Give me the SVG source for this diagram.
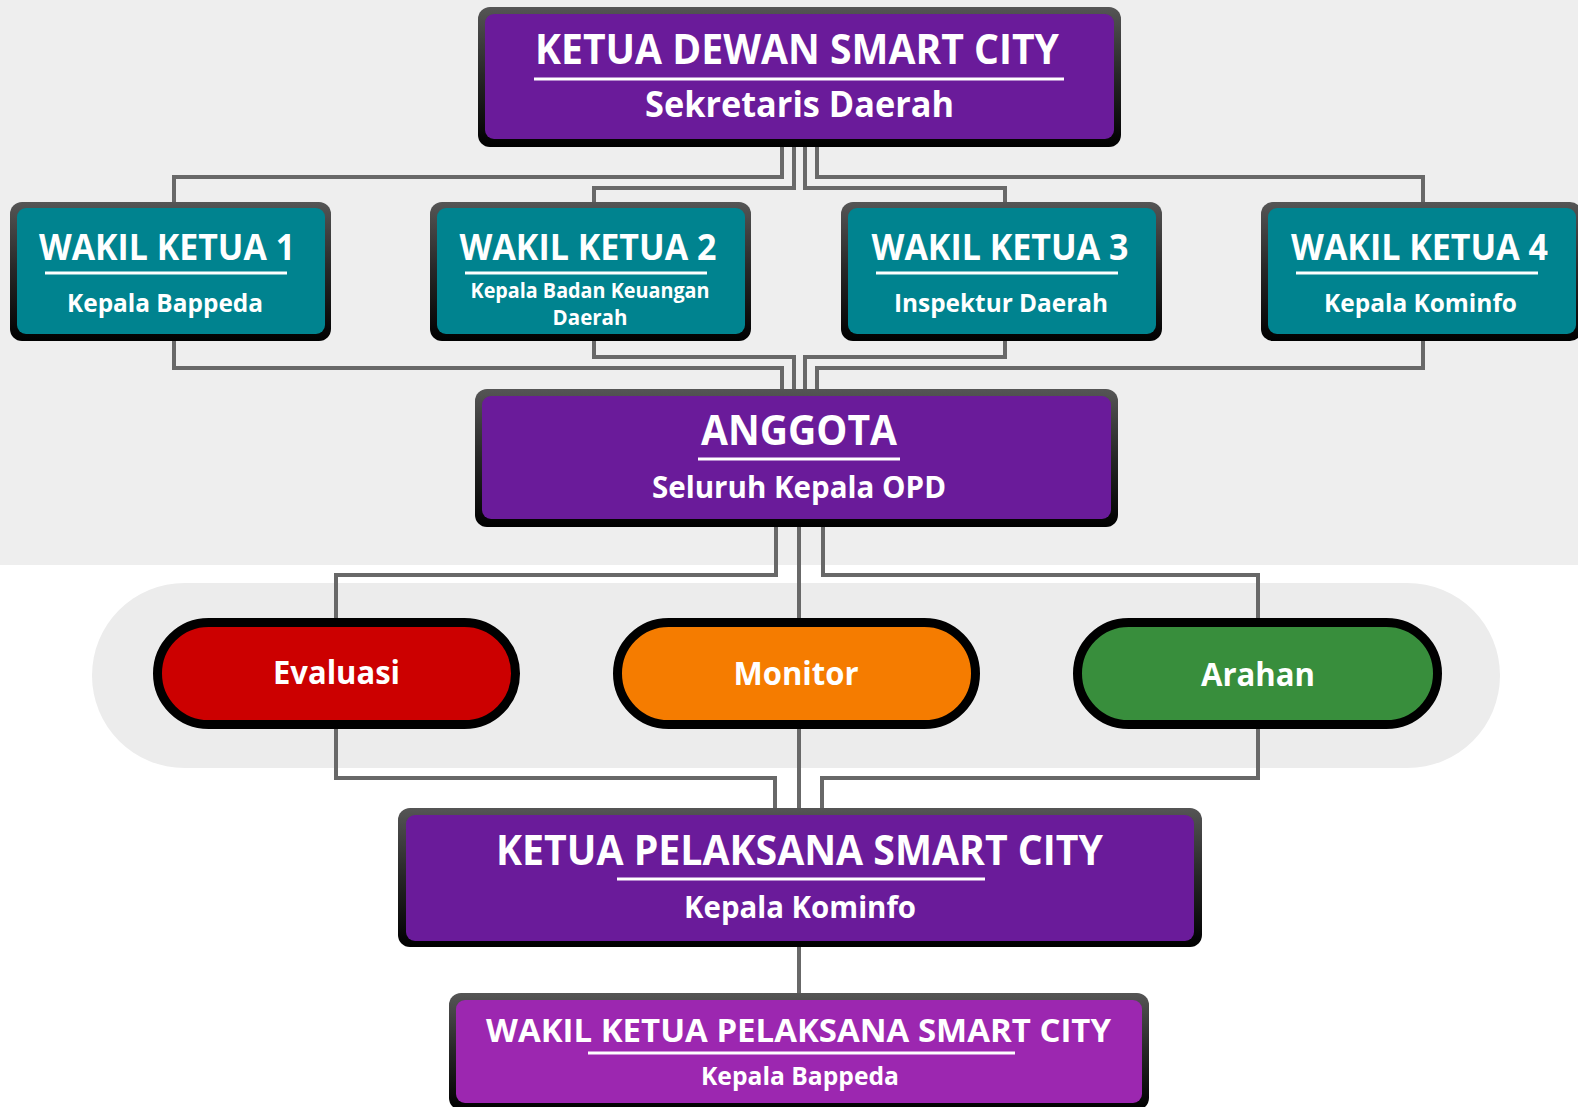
<svg xmlns="http://www.w3.org/2000/svg" width="1578" height="1107" viewBox="0 0 1578 1107">
<defs>
<linearGradient id="frame" x1="0" y1="0" x2="0" y2="1">
<stop offset="0" stop-color="#555555"/>
<stop offset="0.5" stop-color="#262626"/>
<stop offset="1" stop-color="#000000"/>
</linearGradient>
<style>
.frame{fill:url(#frame);}
.purple{fill:#6a1b9a;}
.teal{fill:#00838f;}
.violet{fill:#9c27b0;}
.conn{fill:none;stroke:#686868;stroke-width:4;stroke-linejoin:miter;}
.t{font-family:"Open Sans","Noto Sans","Liberation Sans",sans-serif;font-weight:700;fill:#ffffff;text-anchor:middle;}
.big{font-size:41px;}
.wk{font-size:35px;}
.sub{font-size:31px;}
.wsub{font-size:25.5px;}
.pilltxt{font-size:32.5px;}
.ul{fill:#ffffff;}
.pill{stroke:#000000;stroke-width:9;}
</style>
</defs>

<rect x="0" y="0" width="1578" height="1107" fill="#ffffff"/>
<rect x="0" y="0" width="1578" height="565" fill="#eeeeee"/>
<rect x="92" y="583" width="1408" height="185" rx="92.5" fill="#ececec"/>

<g id="connectors">
<path class="conn" d="M782 147 V177 H174 V202"/>
<path class="conn" d="M794 147 V188 H594 V202"/>
<path class="conn" d="M805 147 V188 H1005 V202"/>
<path class="conn" d="M817 147 V177 H1423 V202"/>
<path class="conn" d="M174 340 V368 H782 V389"/>
<path class="conn" d="M594 340 V357 H794 V389"/>
<path class="conn" d="M1005 340 V357 H805 V389"/>
<path class="conn" d="M1423 340 V368 H817 V389"/>
<path class="conn" d="M776 527 V575 H336 V618"/>
<path class="conn" d="M799 527 V618"/>
<path class="conn" d="M823 527 V575 H1258 V618"/>
<path class="conn" d="M336 729 V778 H775 V808"/>
<path class="conn" d="M799 729 V808"/>
<path class="conn" d="M1258 729 V778 H822 V808"/>
<path class="conn" d="M799 947 V993"/>
</g>

<g id="ketua-dewan">
<rect class="frame" x="478" y="7" width="643" height="140" rx="12"/>
<rect class="purple" x="485" y="14" width="629" height="125" rx="9"/>
<text class="t big" x="797" y="64" textLength="524" lengthAdjust="spacingAndGlyphs">KETUA DEWAN SMART CITY</text>
<rect class="ul" x="534" y="77.5" width="530" height="3"/>
<text class="t" style="font-size:35px" x="799.5" y="117" textLength="309" lengthAdjust="spacingAndGlyphs">Sekretaris Daerah</text>
</g>

<g id="wakil-1">
<rect class="frame" x="10" y="202" width="321" height="139" rx="12"/>
<rect class="teal" x="17" y="208" width="308" height="126" rx="9"/>
<text class="t wk" x="167" y="260" textLength="256" lengthAdjust="spacingAndGlyphs">WAKIL KETUA 1</text>
<rect class="ul" x="45" y="271.5" width="242" height="3"/>
<text class="t wsub" x="165" y="312" textLength="196" lengthAdjust="spacingAndGlyphs">Kepala Bappeda</text>
</g>

<g id="wakil-2">
<rect class="frame" x="430" y="202" width="321" height="139" rx="12"/>
<rect class="teal" x="437" y="208" width="308" height="126" rx="9"/>
<text class="t wk" x="588" y="260" textLength="257" lengthAdjust="spacingAndGlyphs">WAKIL KETUA 2</text>
<rect class="ul" x="465" y="271.5" width="242" height="3"/>
<text class="t" style="font-size:20.5px" x="590" y="298" textLength="239" lengthAdjust="spacingAndGlyphs">Kepala Badan Keuangan</text>
<text class="t" style="font-size:20.5px" x="590" y="325">Daerah</text>
</g>

<g id="wakil-3">
<rect class="frame" x="841" y="202" width="321" height="139" rx="12"/>
<rect class="teal" x="848" y="208" width="308" height="126" rx="9"/>
<text class="t wk" x="1000" y="260" textLength="257" lengthAdjust="spacingAndGlyphs">WAKIL KETUA 3</text>
<rect class="ul" x="876" y="271.5" width="242" height="3"/>
<text class="t wsub" x="1001" y="312" textLength="214" lengthAdjust="spacingAndGlyphs">Inspektur Daerah</text>
</g>

<g id="wakil-4">
<rect class="frame" x="1261" y="202" width="321" height="139" rx="12"/>
<rect class="teal" x="1268" y="208" width="308" height="126" rx="9"/>
<text class="t wk" x="1419.5" y="260" textLength="257" lengthAdjust="spacingAndGlyphs">WAKIL KETUA 4</text>
<rect class="ul" x="1296" y="271.5" width="242" height="3"/>
<text class="t wsub" x="1420.5" y="312" textLength="193" lengthAdjust="spacingAndGlyphs">Kepala Kominfo</text>
</g>

<g id="anggota">
<rect class="frame" x="475" y="389" width="643" height="138" rx="12"/>
<rect class="purple" x="482" y="396" width="629" height="123" rx="9"/>
<text class="t big" x="799" y="445" textLength="196" lengthAdjust="spacingAndGlyphs">ANGGOTA</text>
<rect class="ul" x="698" y="457.5" width="202" height="3"/>
<text class="t sub" x="799" y="498" textLength="294" lengthAdjust="spacingAndGlyphs">Seluruh Kepala OPD</text>
</g>

<g id="evaluasi">
<rect class="pill" x="157.5" y="622.5" width="358" height="102" rx="51" fill="#cc0000"/>
<text class="t pilltxt" x="336.5" y="684" textLength="127" lengthAdjust="spacingAndGlyphs">Evaluasi</text>
</g>

<g id="monitor">
<rect class="pill" x="617.5" y="622.5" width="358" height="102" rx="51" fill="#f57c00"/>
<text class="t pilltxt" x="796" y="685" textLength="125" lengthAdjust="spacingAndGlyphs">Monitor</text>
</g>

<g id="arahan">
<rect class="pill" x="1077.5" y="622.5" width="360" height="102" rx="51" fill="#388e3c"/>
<text class="t pilltxt" x="1258" y="686" textLength="114" lengthAdjust="spacingAndGlyphs">Arahan</text>
</g>

<g id="ketua-pelaksana">
<rect class="frame" x="398" y="808" width="804" height="139" rx="12"/>
<rect class="purple" x="406" y="815" width="788" height="126" rx="9"/>
<text class="t big" x="799.5" y="865" textLength="607" lengthAdjust="spacingAndGlyphs">KETUA PELAKSANA SMART CITY</text>
<rect class="ul" x="617" y="877.5" width="368" height="3"/>
<text class="t sub" x="800" y="918" textLength="232" lengthAdjust="spacingAndGlyphs">Kepala Kominfo</text>
</g>

<g id="wakil-ketua-pelaksana">
<rect class="frame" x="449" y="993" width="700" height="117" rx="12"/>
<rect class="violet" x="456" y="1000" width="686" height="103" rx="9"/>
<text class="t" style="font-size:33px" x="798.5" y="1042" textLength="625" lengthAdjust="spacingAndGlyphs">WAKIL KETUA PELAKSANA SMART CITY</text>
<rect class="ul" x="588" y="1051.5" width="427" height="3"/>
<text class="t wsub" x="800" y="1085" textLength="198" lengthAdjust="spacingAndGlyphs">Kepala Bappeda</text>
</g>
</svg>
